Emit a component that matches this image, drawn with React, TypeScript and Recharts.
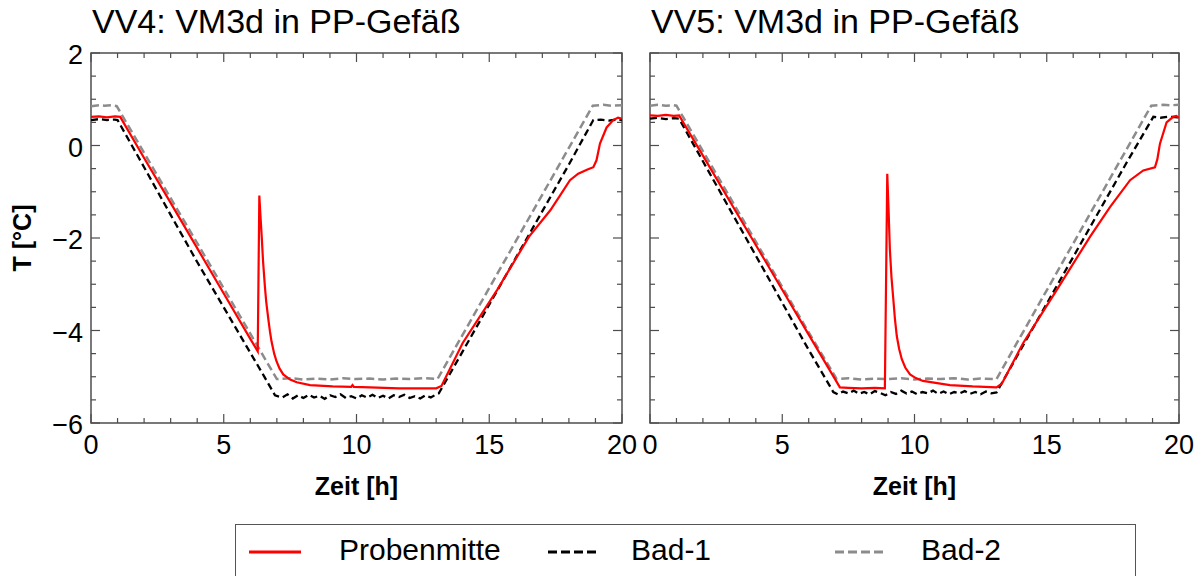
import React from 'react';
import { LineChart, Line, XAxis, YAxis, ReferenceArea } from 'recharts';

// Zeit [h] / T [°C] pairs
const vv4Probe: [number, number][] = [
  [0, 0.62], [0.3, 0.63], [0.6, 0.61], [0.9, 0.63], [1.1, 0.62], [2, -0.27], [3, -1.24], [4, -2.22],
  [5, -3.2], [6, -4.18], [6.28, -4.45], [6.34, -1.08], [6.38, -1.5], [6.43, -1.97], [6.48, -2.5],
  [6.55, -3.05], [6.6, -3.38], [6.68, -3.76], [6.74, -4.02], [6.8, -4.24], [6.9, -4.5], [6.99, -4.67],
  [7.1, -4.82], [7.24, -4.95], [7.5, -5.06], [7.75, -5.12], [8.25, -5.18], [9.1, -5.21],
  [9.8, -5.22], [9.85, -5.18], [9.9, -5.22], [10.5, -5.23], [11.6, -5.25], [12.3, -5.25], [13.0, -5.25],
  [13.2, -5.2], [14.0, -4.27], [15.3, -3.12], [16.5, -1.97], [17.3, -1.4], [17.7, -1.05], [18.04, -0.75],
  [18.35, -0.61], [18.7, -0.52], [18.92, -0.47], [19.04, -0.32], [19.17, 0.04], [19.42, 0.39],
  [19.67, 0.55], [19.85, 0.6], [20, 0.58],
];
const vv4Bad1: [number, number][] = [
  [0, 0.55], [0.3, 0.57], [0.6, 0.55], [0.9, 0.56], [1.0, 0.55], [2, -0.47], [3, -1.5], [4, -2.52],
  [5, -3.5], [6, -4.48], [6.5, -4.97], [6.93, -5.4], [7.2, -5.45], [7.4, -5.38], [7.6, -5.47], [7.8, -5.4],
  [8.0, -5.46], [8.2, -5.39], [8.4, -5.45], [8.6, -5.41], [8.8, -5.48], [9.0, -5.4], [9.2, -5.44],
  [9.4, -5.38], [9.6, -5.46], [9.8, -5.42], [10.0, -5.47], [10.2, -5.4], [10.4, -5.45], [10.6, -5.39],
  [10.8, -5.46], [11.0, -5.41], [11.2, -5.47], [11.4, -5.4], [11.6, -5.44], [11.8, -5.39], [12.0, -5.46],
  [12.2, -5.42], [12.4, -5.47], [12.6, -5.4], [12.8, -5.45], [13.0, -5.38], [13.1, -5.36], [14, -4.45],
  [15, -3.44], [16, -2.43], [17, -1.42], [18, -0.41], [18.92, 0.55], [19.2, 0.56], [19.5, 0.54],
  [19.8, 0.56], [20, 0.55],
];
const vv4Bad2: [number, number][] = [
  [0, 0.85], [0.3, 0.87], [0.5, 0.86], [0.8, 0.87], [0.97, 0.85], [2, -0.16], [3, -1.14], [4, -2.11],
  [5, -3.09], [6, -4.07], [7.0, -5.05], [7.5, -5.03], [8, -5.06], [8.5, -5.04], [9, -5.06], [9.5, -5.03],
  [10, -5.05], [10.5, -5.04], [11, -5.06], [11.5, -5.04], [12, -5.05], [12.5, -5.03], [13.05, -5.05],
  [14, -4.09], [15, -3.08], [16, -2.07], [17, -1.06], [18, -0.05], [18.9, 0.86], [19.3, 0.88],
  [19.6, 0.86], [20, 0.87],
];

const vv5Probe: [number, number][] = [
  [0, 0.65], [0.3, 0.64], [0.6, 0.66], [0.9, 0.64], [1.1, 0.65], [2, -0.22], [3, -1.19], [4, -2.15],
  [5, -3.12], [6, -4.09], [7.18, -5.23], [7.5, -5.24], [8, -5.25], [8.5, -5.24], [8.88, -5.25],
  [8.97, -0.61], [9.02, -1.4], [9.07, -2.26], [9.13, -2.85], [9.2, -3.33], [9.26, -3.75], [9.33, -4.12],
  [9.42, -4.4], [9.52, -4.62], [9.65, -4.8], [9.83, -4.95], [10.05, -5.03], [10.32, -5.09],
  [11.34, -5.18], [12.2, -5.21], [13.1, -5.23], [13.3, -5.15], [14.11, -4.27], [15.38, -3.12],
  [16.64, -1.97], [17.39, -1.33], [18.15, -0.75], [18.65, -0.54], [19.09, -0.47], [19.18, -0.3],
  [19.28, 0.04], [19.53, 0.5], [19.78, 0.62], [19.9, 0.64], [20, 0.6],
];
const vv5Bad1: [number, number][] = [
  [0, 0.58], [0.3, 0.6], [0.6, 0.57], [0.9, 0.59], [1.1, 0.58], [2, -0.34], [3, -1.36], [4, -2.38],
  [5, -3.4], [6, -4.42], [6.93, -5.33], [7.1, -5.38], [7.3, -5.32], [7.5, -5.36], [7.7, -5.3], [7.9, -5.37],
  [8.1, -5.33], [8.3, -5.38], [8.5, -5.31], [8.7, -5.35], [8.9, -5.4], [9.1, -5.33], [9.3, -5.37],
  [9.5, -5.3], [9.7, -5.36], [9.9, -5.32], [10.1, -5.38], [10.3, -5.33], [10.5, -5.36], [10.7, -5.3],
  [10.9, -5.37], [11.1, -5.32], [11.3, -5.38], [11.5, -5.33], [11.7, -5.36], [11.9, -5.31], [12.1, -5.37],
  [12.3, -5.33], [12.5, -5.38], [12.7, -5.32], [12.9, -5.36], [13.1, -5.34], [14, -4.43], [15, -3.42],
  [16, -2.41], [17, -1.4], [18, -0.39], [19.03, 0.62], [19.3, 0.6], [19.6, 0.62], [20, 0.61],
];
const vv5Bad2: [number, number][] = [
  [0, 0.86], [0.3, 0.88], [0.6, 0.86], [0.9, 0.87], [1.0, 0.86], [2, -0.12], [3, -1.1], [4, -2.08],
  [5, -3.06], [6, -4.04], [7.06, -5.05], [7.5, -5.03], [8, -5.06], [8.5, -5.04], [9, -5.05], [9.5, -5.03],
  [10, -5.06], [10.5, -5.04], [11, -5.05], [11.5, -5.03], [12, -5.06], [12.5, -5.04], [13.1, -5.05],
  [14, -4.14], [15, -3.13], [16, -2.12], [17, -1.11], [18, -0.1], [18.95, 0.86], [19.4, 0.88],
  [19.7, 0.87], [20, 0.88],
];

const xTicks = [0, 1, 2, 3, 4, 5, 6, 7, 8, 9, 10, 11, 12, 13, 14, 15, 16, 17, 18, 19, 20];
const yTicks = [-6, -5.5, -5, -4.5, -4, -3.5, -3, -2.5, -2, -1.5, -1, -0.5, 0, 0.5, 1, 1.5, 2];

const FONT = '"Liberation Sans", Arial, sans-serif';
const AXIS = '#4d4d4d';
const PLOT_TOP = 53;
const CHART_H = 470;
const PLOT_BOTTOM = 423;
const X_AXIS_H = 40;

const toPoints = (s: [number, number][]) => s.map(([t, v]) => ({ t, v }));

interface PanelProps {
  left: number;
  width: number;
  plotLeft: number;
  plotRight: number;
  title: string;
  showYLabels: boolean;
  probe: [number, number][];
  bad1: [number, number][];
  bad2: [number, number][];
}

const Panel: React.FC<PanelProps> = ({ left, width, plotLeft, plotRight, title, showYLabels, probe, bad1, bad2 }) => {
  const yAxisW = plotLeft - 8;

  const renderXTick = (props: any) => {
    const { x, payload } = props;
    const major = payload.value % 5 === 0;
    const len = major ? 9 : 5;
    return (
      <g>
        <line x1={x} x2={x} y1={PLOT_BOTTOM} y2={PLOT_BOTTOM - len} stroke={AXIS} strokeWidth={1.2} />
        <line x1={x} x2={x} y1={PLOT_TOP} y2={PLOT_TOP + len} stroke={AXIS} strokeWidth={1.2} />
        {major && (
          <text x={x} y={PLOT_BOTTOM + 31} textAnchor="middle" fontSize={27} fontFamily={FONT} fill="#000">
            {payload.value}
          </text>
        )}
      </g>
    );
  };

  const renderYTick = (props: any) => {
    const { y, payload } = props;
    const major = payload.value % 2 === 0;
    const len = major ? 9 : 5;
    return (
      <g>
        <line x1={plotLeft} x2={plotLeft + len} y1={y} y2={y} stroke={AXIS} strokeWidth={1.2} />
        <line x1={plotRight} x2={plotRight - len} y1={y} y2={y} stroke={AXIS} strokeWidth={1.2} />
        {major && showYLabels && (
          <text x={plotLeft - 8} y={y + 11} textAnchor="end" fontSize={27} fontFamily={FONT} fill="#000">
            {payload.value < 0 ? '\u2212' + Math.abs(payload.value) : payload.value}
          </text>
        )}
      </g>
    );
  };

  return (
    <div style={{ position: 'absolute', left, top: 0, width, height: CHART_H }}>
      <div
        style={{
          position: 'absolute',
          left: plotLeft + 1,
          top: 2,
          fontSize: 34,
          fontFamily: FONT,
          whiteSpace: 'nowrap',
          color: '#000',
        }}
      >
        {title}
      </div>
      <div
        style={{
          position: 'absolute',
          left: plotLeft,
          width: plotRight - plotLeft,
          top: 472,
          textAlign: 'center',
          fontSize: 25,
          fontWeight: 'bold',
          fontFamily: FONT,
        }}
      >
        Zeit [h]
      </div>
      <LineChart
        width={width}
        height={CHART_H}
        margin={{ top: PLOT_TOP, left: 8, right: width - plotRight, bottom: CHART_H - PLOT_BOTTOM - X_AXIS_H }}
        style={{ position: 'absolute', left: 0, top: 0, overflow: 'visible' }}
      >
        <XAxis
          dataKey="t"
          type="number"
          domain={[0, 20]}
          ticks={xTicks}
          interval={0}
          height={X_AXIS_H}
          axisLine={false}
          tickLine={false}
          tick={renderXTick}
          allowDataOverflow
        />
        <YAxis
          type="number"
          domain={[-6, 2]}
          ticks={yTicks}
          interval={0}
          width={yAxisW}
          axisLine={false}
          tickLine={false}
          tick={renderYTick}
          allowDataOverflow
        />
        <ReferenceArea x1={0} x2={20} y1={-6} y2={2} fill="none" stroke={AXIS} strokeWidth={1.5} />
        <Line data={toPoints(bad2)} dataKey="v" type="linear" stroke="#8c8c8c" strokeWidth={2.5} strokeDasharray="8 4" dot={false} isAnimationActive={false} />
        <Line data={toPoints(bad1)} dataKey="v" type="linear" stroke="#000000" strokeWidth={2.3} strokeDasharray="7 4" dot={false} isAnimationActive={false} />
        <Line data={toPoints(probe)} dataKey="v" type="linear" stroke="#ff0000" strokeWidth={2.2} dot={false} isAnimationActive={false} />
      </LineChart>
    </div>
  );
};

const LegendBox: React.FC = () => {
  const item = (x: number, color: string, dash: string | undefined, label: string, textX: number) => (
    <>
      <svg style={{ position: 'absolute', left: x, top: 20 }} width={52} height={14}>
        <line x1={0} x2={52} y1={7} y2={7} stroke={color} strokeWidth={3} strokeDasharray={dash} />
      </svg>
      <div style={{ position: 'absolute', left: textX, top: 8, fontSize: 30, fontFamily: FONT, whiteSpace: 'nowrap' }}>
        {label}
      </div>
    </>
  );
  return (
    <div
      style={{
        position: 'absolute',
        left: 235,
        top: 524,
        width: 901,
        height: 70,
        border: '1px solid #555',
        boxSizing: 'border-box',
      }}
    >
      {item(13, '#ff0000', undefined, 'Probenmitte', 103)}
      {item(312, '#000000', '9 4', 'Bad-1', 395)}
      {item(599, '#8c8c8c', '9 4', 'Bad-2', 685)}
    </div>
  );
};

export default function App() {
  return (
    <div
      style={{
        position: 'absolute',
        left: 0,
        top: 0,
        width: 1199,
        height: 576,
        overflow: 'hidden',
        background: '#fff',
        fontFamily: FONT,
      }}
    >
      <div
        style={{
          position: 'absolute',
          left: 22,
          top: 238,
          transform: 'translate(-50%, -50%) rotate(-90deg)',
          fontSize: 25,
          fontWeight: 'bold',
          whiteSpace: 'nowrap',
        }}
      >
        T [°C]
      </div>
      <Panel left={0} width={640} plotLeft={91} plotRight={622} title="VV4: VM3d in PP-Gefäß" showYLabels probe={vv4Probe} bad1={vv4Bad1} bad2={vv4Bad2} />
      <Panel left={620} width={579} plotLeft={30} plotRight={559} title="VV5: VM3d in PP-Gefäß" showYLabels={false} probe={vv5Probe} bad1={vv5Bad1} bad2={vv5Bad2} />
      <LegendBox />
    </div>
  );
}
